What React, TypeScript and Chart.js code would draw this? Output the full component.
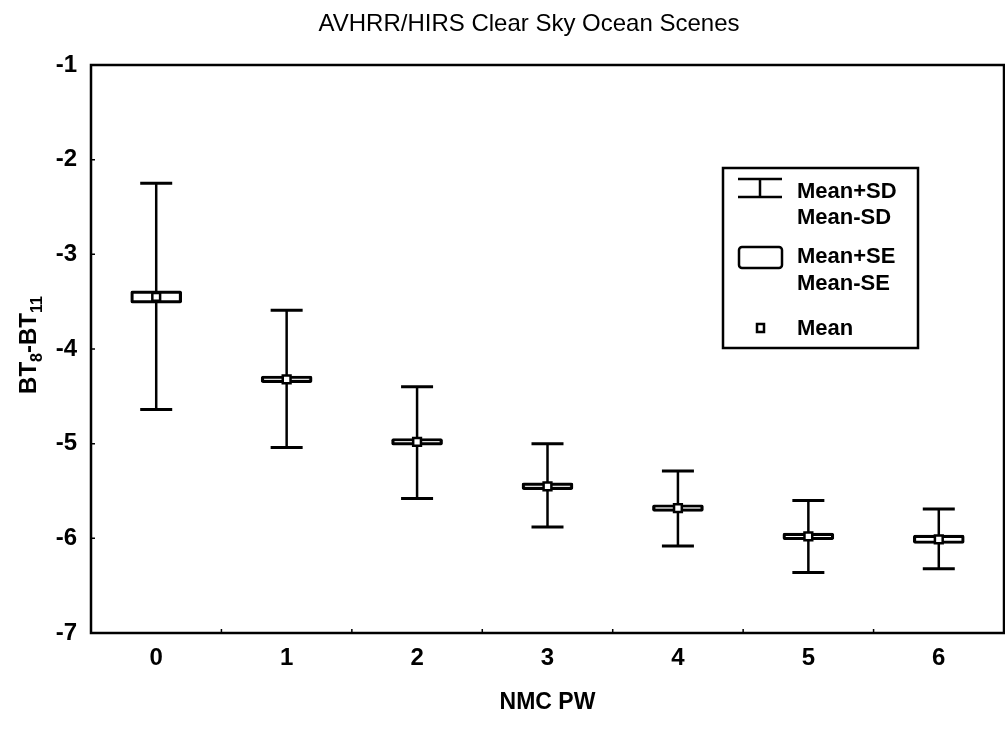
import React, { useEffect, useRef } from 'react';
import { Chart, registerables } from 'chart.js';

Chart.register(...registerables);

const chartTitle = 'AVHRR/HIRS Clear Sky Ocean Scenes';
const xTitle = 'NMC PW';
const categories = ['0', '1', '2', '3', '4', '5', '6'];
const means = [-3.45, -4.32, -4.98, -5.45, -5.68, -5.98, -6.01];
const sdUpper = [-2.25, -3.59, -4.4, -5.0, -5.29, -5.6, -5.69];
const sdLower = [-4.64, -5.04, -5.58, -5.88, -6.08, -6.36, -6.32];
const seUpper = [-3.385, -4.285, -4.945, -5.415, -5.645, -5.945, -5.965];
const seLower = [-3.515, -4.355, -5.015, -5.485, -5.715, -6.015, -6.055];
const yTicks = [-1, -2, -3, -4, -5, -6, -7];
const legendLabels = ['Mean+SD', 'Mean-SD', 'Mean+SE', 'Mean-SE', 'Mean'];

const FONT = "'Liberation Sans', Arial, Helvetica, sans-serif";

const whiskerPlugin = {
  id: 'whiskers',
  beforeDatasetsDraw(chart: any) {
    const { ctx, scales } = chart;
    const x = scales.x;
    const y = scales.y;
    ctx.save();
    ctx.strokeStyle = '#000';
    categories.forEach((_c, i) => {
      const px = x.getPixelForValue(i);
      const yt = y.getPixelForValue(sdUpper[i]);
      const yb = y.getPixelForValue(sdLower[i]);
      ctx.lineWidth = 2.5;
      ctx.beginPath();
      ctx.moveTo(px, yt);
      ctx.lineTo(px, yb);
      ctx.stroke();
      ctx.lineWidth = 3;
      ctx.beginPath();
      ctx.moveTo(px - 16, yt);
      ctx.lineTo(px + 16, yt);
      ctx.moveTo(px - 16, yb);
      ctx.lineTo(px + 16, yb);
      ctx.stroke();
    });
    ctx.restore();
  },
};

const decorPlugin = {
  id: 'decor',
  afterDraw(chart: any) {
    const { ctx, chartArea, scales } = chart;
    const { left, right, top, bottom } = chartArea;
    ctx.save();
    // frame
    ctx.strokeStyle = '#000';
    ctx.lineWidth = 2.5;
    ctx.strokeRect(left, top, right - left, bottom - top);
    // inward ticks
    ctx.lineWidth = 1.5;
    ctx.beginPath();
    yTicks.forEach((v) => {
      const py = scales.y.getPixelForValue(v);
      ctx.moveTo(left, py);
      ctx.lineTo(left + 4, py);
    });
    for (let i = 0; i < categories.length - 1; i++) {
      const px = (scales.x.getPixelForValue(i) + scales.x.getPixelForValue(i + 1)) / 2;
      ctx.moveTo(px, bottom);
      ctx.lineTo(px, bottom - 4);
    }
    ctx.stroke();

    // title
    ctx.fillStyle = '#000';
    ctx.font = `24px ${FONT}`;
    ctx.textAlign = 'center';
    ctx.textBaseline = 'middle';
    ctx.fillText(chartTitle, 529, 24);

    // y axis title with subscripts
    ctx.save();
    ctx.translate(28, (top + bottom) / 2 - 4);
    ctx.rotate(-Math.PI / 2);
    const parts: [string, boolean][] = [['BT', false], ['8', true], ['-BT', false], ['11', true]];
    const bigF = `bold 24px ${FONT}`;
    const smallF = `bold 16px ${FONT}`;
    let total = 0;
    parts.forEach(([t, sub]) => {
      ctx.font = sub ? smallF : bigF;
      total += ctx.measureText(t).width;
    });
    let cx = -total / 2;
    ctx.textAlign = 'left';
    ctx.textBaseline = 'alphabetic';
    parts.forEach(([t, sub]) => {
      ctx.font = sub ? smallF : bigF;
      ctx.fillText(t, cx, sub ? 14 : 8);
      cx += ctx.measureText(t).width;
    });
    ctx.restore();

    // legend
    const lx = 723, ly = 168, lw = 195, lh = 180;
    ctx.fillStyle = '#fff';
    ctx.fillRect(lx, ly, lw, lh);
    ctx.strokeStyle = '#000';
    ctx.lineWidth = 2.5;
    ctx.strokeRect(lx, ly, lw, lh);
    // I-bar symbol
    ctx.lineWidth = 2.5;
    ctx.beginPath();
    ctx.moveTo(738, 179);
    ctx.lineTo(782, 179);
    ctx.moveTo(738, 197);
    ctx.lineTo(782, 197);
    ctx.moveTo(760, 179);
    ctx.lineTo(760, 197);
    ctx.stroke();
    // box symbol
    ctx.beginPath();
    if (ctx.roundRect) ctx.roundRect(739, 247, 43, 21, 3);
    else ctx.rect(739, 247, 43, 21);
    ctx.stroke();
    // mean symbol
    ctx.lineWidth = 2.5;
    ctx.strokeRect(757, 324, 7, 8);
    // texts
    ctx.fillStyle = '#000';
    ctx.font = `bold 22px ${FONT}`;
    ctx.textAlign = 'left';
    ctx.textBaseline = 'middle';
    const ys = [192, 218, 257, 284, 329];
    legendLabels.forEach((t, i) => ctx.fillText(t, 797, ys[i]));
    ctx.restore();
  },
};

export default function App() {
  const ref = useRef<HTMLCanvasElement | null>(null);
  useEffect(() => {
    document.body.style.margin = '0';
    const canvas = ref.current;
    if (!canvas) return;
    const chart = new Chart(canvas, {
      type: 'bar',
      data: {
        labels: categories,
        datasets: [
          {
            type: 'line' as const,
            label: 'Mean',
            data: means,
            showLine: false,
            pointStyle: 'rect',
            pointRadius: 5.5,
            pointHoverRadius: 5.5,
            pointBackgroundColor: '#fff',
            pointBorderColor: '#000',
            pointBorderWidth: 2.5,
            order: 0,
          },
          {
            type: 'bar' as const,
            label: 'Mean±SE',
            data: categories.map((_c, i) => [seLower[i], seUpper[i]]),
            backgroundColor: '#fff',
            borderColor: '#000',
            borderWidth: 3.2,
            borderSkipped: false,
            borderRadius: 2,
            barThickness: 51,
            order: 1,
          } as any,
        ],
      },
      options: {
        responsive: false,
        animation: false,
        devicePixelRatio: 1,
        layout: { autoPadding: false, padding: { top: 65, right: 1, left: 0, bottom: 0 } },
        plugins: {
          legend: { display: false },
          tooltip: { enabled: false },
          title: { display: false },
        },
        scales: {
          x: {
            type: 'category',
            offset: true,
            grid: { display: false, drawTicks: false },
            border: { display: false },
            ticks: {
              color: '#000',
              font: { family: FONT, size: 24, weight: 'bold' },
              padding: 11,
            },
            title: {
              display: true,
              text: xTitle,
              color: '#000',
              font: { family: FONT, size: 23, weight: 'bold' },
              padding: { top: 0, bottom: 13 },
            },
            afterFit: (s: any) => {
              s.height = 96;
              s.paddingLeft = 0;
              s.paddingRight = 0;
            },
          },
          y: {
            type: 'linear',
            min: -7,
            max: -1,
            grid: { display: false, drawTicks: false },
            border: { display: false },
            ticks: {
              stepSize: 1,
              color: '#000',
              font: { family: FONT, size: 24, weight: 'bold' },
              padding: 14,
            },
            afterFit: (s: any) => {
              s.width = 91;
            },
          },
        },
      },
      plugins: [whiskerPlugin, decorPlugin],
    } as any);
    return () => chart.destroy();
  }, []);
  return (
    <div style={{ position: 'fixed', left: 0, top: 0, width: 1005, height: 729, background: '#fff' }}>
      <canvas ref={ref} width={1005} height={729} style={{ display: 'block' }} />
    </div>
  );
}
